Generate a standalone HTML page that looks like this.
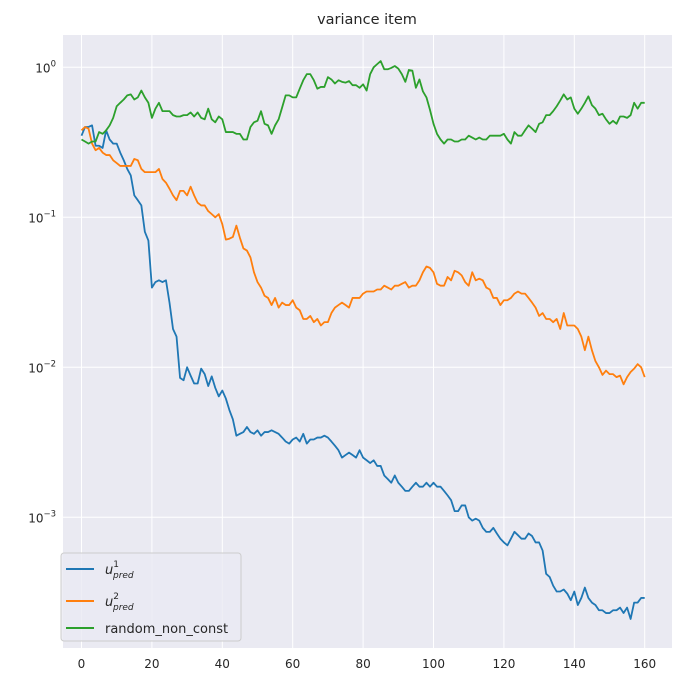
<!DOCTYPE html>
<html><head><meta charset="utf-8"><style>
body{margin:0;background:#fff;font-family:"Liberation Sans","DejaVu Sans",sans-serif}
svg text{font-family:"DejaVu Sans","Liberation Sans",sans-serif}
</style></head><body>
<svg id="chart" width="683" height="682" xmlns="http://www.w3.org/2000/svg">
<rect x="0" y="0" width="683" height="682" fill="#fff"/>
<text x="367" y="24" text-anchor="middle" font-size="14.5" fill="#262626">variance item</text>
<rect x="63" y="35" width="609" height="613" fill="#eaeaf2"/>
<g id="grid"></g><g id="ticks"></g><g id="series"></g>
<g>
<rect x="61" y="553" width="180" height="88" rx="3" fill="#eaeaf2" fill-opacity="0.8" stroke="#cccccc"/>
<line x1="66" y1="569" x2="94" y2="569" stroke="#1f77b4" stroke-width="2"/>
<text x="105" y="574" font-size="13" font-style="italic" fill="#262626">u<tspan font-size="9" dy="-7" font-style="normal">1</tspan><tspan font-size="9" dx="-6" dy="11">pred</tspan></text>
<line x1="66" y1="601" x2="94" y2="601" stroke="#ff7f0e" stroke-width="2"/>
<text x="105" y="606" font-size="13" font-style="italic" fill="#262626">u<tspan font-size="9" dy="-7" font-style="normal">2</tspan><tspan font-size="9" dx="-6" dy="11">pred</tspan></text>
<line x1="66" y1="628" x2="94" y2="628" stroke="#2ca02c" stroke-width="2"/>
<text x="105" y="633" font-size="13" fill="#262626">random_non_const</text>
</g>
</svg>
<script>
const xTicks=[0,20,40,60,80,100,120,140,160];
const yTickExps=[0,-1,-2,-3];
const u1=[0.35,0.40,0.40,0.41,0.30,0.30,0.29,0.38,0.33,0.31,0.31,0.27,0.24,0.21,0.19,0.14,0.13,0.12,0.08,0.07,0.034,0.037,0.038,0.037,0.038,0.027,0.018,0.016,0.0085,0.0082,0.010,0.0088,0.0078,0.0078,0.0098,0.009,0.0075,0.0087,0.0073,0.0064,0.0070,0.0062,0.0052,0.0045,0.0035,0.0036,0.0037,0.0040,0.0037,0.0036,0.0038,0.0035,0.0037,0.0037,0.0038,0.0037,0.0036,0.0034,0.0032,0.0031,0.0033,0.0034,0.0032,0.0036,0.0031,0.0033,0.0033,0.0034,0.0034,0.0035,0.0034,0.0032,0.0030,0.0028,0.0025,0.0026,0.0027,0.0026,0.0025,0.0028,0.0025,0.0024,0.0023,0.0024,0.0022,0.0022,0.0019,0.0018,0.0017,0.0019,0.0017,0.0016,0.0015,0.0015,0.0016,0.0017,0.0016,0.0016,0.0017,0.0016,0.0017,0.0016,0.0016,0.0015,0.0014,0.0013,0.0011,0.0011,0.0012,0.0012,0.0010,0.00095,0.00098,0.00095,0.00085,0.00080,0.00080,0.00085,0.00078,0.00072,0.00068,0.00065,0.00072,0.00080,0.00076,0.00072,0.00072,0.00078,0.00075,0.00068,0.00068,0.00060,0.00042,0.00040,0.00035,0.00032,0.00032,0.00033,0.00031,0.00028,0.00032,0.00026,0.00029,0.00034,0.00029,0.00027,0.00026,0.00024,0.00024,0.00023,0.00023,0.00024,0.00024,0.00025,0.00023,0.00025,0.00021,0.00027,0.00027,0.00029,0.00029];
const u2=[0.38,0.40,0.39,0.31,0.28,0.29,0.27,0.26,0.26,0.24,0.23,0.22,0.22,0.22,0.22,0.245,0.24,0.21,0.20,0.20,0.20,0.20,0.21,0.18,0.17,0.155,0.14,0.13,0.15,0.15,0.14,0.16,0.14,0.125,0.12,0.12,0.11,0.105,0.10,0.105,0.09,0.071,0.072,0.074,0.088,0.073,0.062,0.060,0.054,0.043,0.037,0.034,0.030,0.029,0.026,0.029,0.025,0.027,0.026,0.026,0.028,0.025,0.024,0.021,0.021,0.022,0.020,0.021,0.019,0.020,0.020,0.023,0.025,0.026,0.027,0.026,0.025,0.029,0.029,0.029,0.031,0.032,0.032,0.032,0.033,0.033,0.035,0.034,0.033,0.035,0.035,0.036,0.037,0.034,0.035,0.035,0.038,0.043,0.047,0.046,0.043,0.036,0.035,0.035,0.040,0.038,0.044,0.043,0.041,0.037,0.035,0.043,0.038,0.039,0.038,0.034,0.033,0.029,0.029,0.026,0.028,0.028,0.029,0.031,0.032,0.031,0.031,0.029,0.027,0.025,0.022,0.023,0.021,0.021,0.020,0.021,0.018,0.023,0.019,0.019,0.019,0.018,0.016,0.013,0.016,0.013,0.011,0.010,0.0089,0.0095,0.0090,0.0090,0.0086,0.0088,0.0077,0.0086,0.0093,0.0098,0.0105,0.0100,0.0086];
const rnd=[0.33,0.32,0.31,0.32,0.32,0.37,0.36,0.38,0.41,0.46,0.55,0.58,0.61,0.65,0.66,0.61,0.63,0.70,0.63,0.58,0.46,0.53,0.58,0.51,0.51,0.51,0.48,0.47,0.47,0.48,0.48,0.50,0.47,0.50,0.46,0.45,0.53,0.45,0.43,0.47,0.45,0.37,0.37,0.37,0.36,0.36,0.33,0.33,0.40,0.43,0.44,0.51,0.42,0.41,0.36,0.41,0.45,0.54,0.65,0.65,0.63,0.63,0.72,0.82,0.90,0.90,0.82,0.72,0.74,0.74,0.86,0.83,0.78,0.82,0.80,0.79,0.81,0.76,0.76,0.73,0.77,0.70,0.90,1.0,1.05,1.1,0.97,0.97,0.99,1.02,0.98,0.90,0.80,0.96,0.95,0.73,0.83,0.69,0.63,0.52,0.42,0.36,0.33,0.31,0.33,0.33,0.32,0.32,0.33,0.33,0.35,0.34,0.33,0.34,0.33,0.33,0.35,0.35,0.35,0.35,0.36,0.33,0.31,0.37,0.35,0.35,0.38,0.41,0.39,0.37,0.42,0.43,0.48,0.48,0.51,0.55,0.60,0.66,0.61,0.63,0.53,0.49,0.53,0.58,0.64,0.56,0.53,0.48,0.49,0.45,0.42,0.44,0.42,0.47,0.47,0.46,0.48,0.58,0.53,0.58,0.58];
const NS="http://www.w3.org/2000/svg";
const X=v=>81.5+v*3.52;
const Y=v=>67.3-150*Math.log10(v);
function mk(tag,attrs,parent){const e=document.createElementNS(NS,tag);for(const k in attrs)e.setAttribute(k,attrs[k]);parent.appendChild(e);return e;}
const grid=document.getElementById('grid'),ticks=document.getElementById('ticks'),ser=document.getElementById('series');
xTicks.forEach(t=>{
  const l=mk('line',{x1:X(t),x2:X(t),y1:35,y2:648,stroke:'#fff','stroke-width':1},grid);
  
  
  const tx=mk('text',{x:X(t),y:668,'text-anchor':'middle','font-size':12,fill:'#262626'},ticks);
  tx.textContent=t;
  
  
});
yTickExps.forEach(e=>{
  const y=Y(Math.pow(10,e));
  const l=mk('line',{x1:63,x2:672,y1:y,y2:y,stroke:'#fff','stroke-width':1},grid);
  
  
  const tx=mk('text',{x:56,y:y+5,'text-anchor':'end','font-size':12,fill:'#262626'},ticks);
  tx.textContent='10';
  const s=mk('tspan',{dy:-6,'font-size':8.5},tx);s.textContent=String(e).replace('-','\u2212');
  
  
});
[[u1,'#1f77b4','series-u1-pred'],[u2,'#ff7f0e','series-u2-pred'],[rnd,'#2ca02c','series-random-non-const']].forEach(([d,c,n])=>{
  const p=mk('polyline',{points:d.map((v,i)=>X(i).toFixed(2)+','+Y(v).toFixed(2)).join(' '),fill:'none',stroke:c,'stroke-width':1.8,'stroke-linejoin':'round'},ser);
  
  
});
</script>
</body></html>
